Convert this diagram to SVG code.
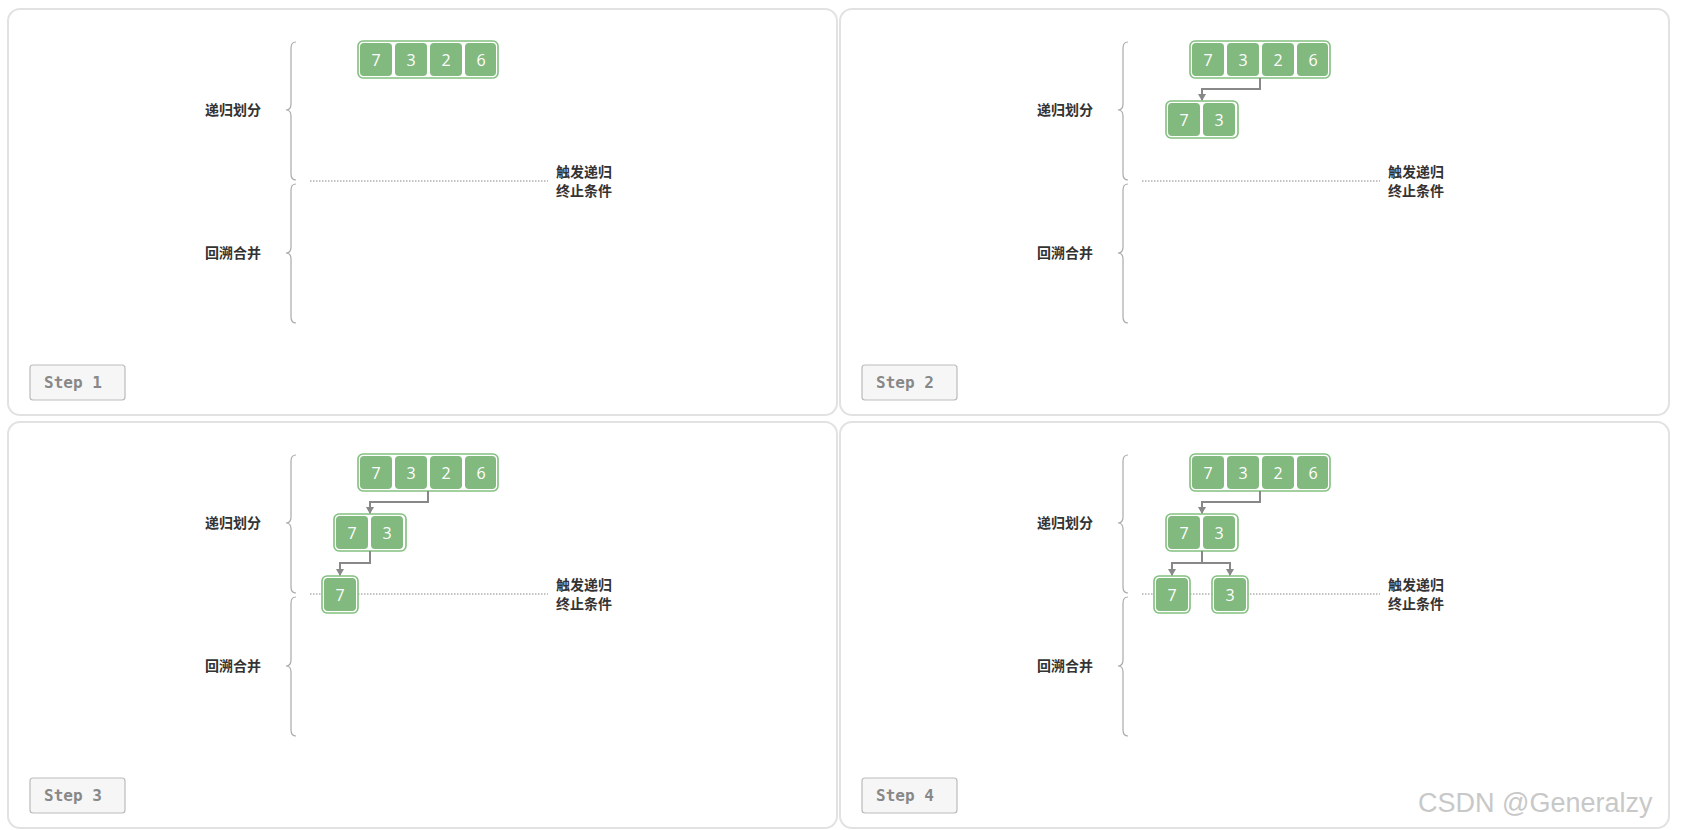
<svg xmlns="http://www.w3.org/2000/svg" width="1682" height="830" viewBox="0 0 1682 830">
<style>
.panel{fill:#fff;stroke:#e2e2e2;stroke-width:2}
.outer{fill:#fff;stroke:#82c07e;stroke-width:1.6}
.cell{fill:#82b97f;stroke:none}
.num{font-family:"Open Sans","Liberation Sans",sans-serif;font-size:16px;fill:#fff;text-anchor:middle;dominant-baseline:central}
.lbl{font-family:"Liberation Sans","Noto Sans CJK SC",sans-serif;font-size:14px;font-weight:bold;fill:#333}
.brace{fill:none;stroke:#aaa;stroke-width:1.2}
.dot{stroke:#888;stroke-width:1;stroke-dasharray:1.5 1.5}
.stepbox{fill:#f6f6f6;stroke:#bbb;stroke-width:1.2}
.steptxt{font-family:"DejaVu Sans Mono","Liberation Mono",monospace;font-size:16px;font-weight:bold;fill:#888}
.edge{fill:none;stroke:#888;stroke-width:2;marker-end:url(#ah)}
</style>
<defs>
<marker id="ah" markerWidth="8" markerHeight="8" refX="6" refY="4" orient="auto" markerUnits="userSpaceOnUse"><path d="M0,0 L7,4 L0,8 Z" fill="#888"/></marker>
<g id="frame">
<path class="brace" d="M296,42 Q291,42 291,48 L291,104 Q291,110 286,110 Q291,110 291,116 L291,174 Q291,180 296,180"/>
<path class="brace" d="M296,184 Q291,184 291,190 L291,247 Q291,253 286,253 Q291,253 291,259 L291,317 Q291,323 296,323"/>
<text class="lbl" x="205" y="115">递归划分</text>
<text class="lbl" x="205" y="258">回溯合并</text>
<line class="dot" x1="310" y1="181" x2="548" y2="181"/>
<text class="lbl" x="556" y="177">触发递归</text>
<text class="lbl" x="556" y="196">终止条件</text>
<rect class="outer" x="358" y="41" width="140" height="37" rx="5"/>
<rect class="cell" x="360" y="43" width="32" height="33" rx="4"/>
<rect class="cell" x="395" y="43" width="32" height="33" rx="4"/>
<rect class="cell" x="430" y="43" width="32" height="33" rx="4"/>
<rect class="cell" x="465" y="43" width="31" height="33" rx="4"/>
<text class="num" x="376" y="59.5">7</text>
<text class="num" x="411" y="59.5">3</text>
<text class="num" x="446" y="59.5">2</text>
<text class="num" x="481" y="59.5">6</text>
</g>
</defs>
<g id="panel1">
<rect class="panel" x="8" y="9" width="829" height="406" rx="12"/>
<use href="#frame"/>
<rect class="stepbox" x="30" y="365" width="95" height="35" rx="3"/>
<text class="steptxt" x="44" y="388">Step 1</text>
</g>
<g id="panel2" transform="translate(832,0)">
<rect class="panel" x="8" y="9" width="829" height="406" rx="12"/>
<use href="#frame"/>
<rect class="outer" x="334" y="101" width="72" height="37" rx="5"/>
<rect class="cell" x="336" y="103" width="32" height="33" rx="4"/>
<rect class="cell" x="371" y="103" width="32" height="33" rx="4"/>
<text class="num" x="352" y="119.5">7</text>
<text class="num" x="387" y="119.5">3</text>
<path class="edge" d="M428,78 L428,89 L370,89 L370,100"/>
<rect class="stepbox" x="30" y="365" width="95" height="35" rx="3"/>
<text class="steptxt" x="44" y="388">Step 2</text>
</g>
<g id="panel3" transform="translate(0,413)">
<rect class="panel" x="8" y="9" width="829" height="406" rx="12"/>
<use href="#frame"/>
<rect class="outer" x="334" y="101" width="72" height="37" rx="5"/>
<rect class="cell" x="336" y="103" width="32" height="33" rx="4"/>
<rect class="cell" x="371" y="103" width="32" height="33" rx="4"/>
<text class="num" x="352" y="119.5">7</text>
<text class="num" x="387" y="119.5">3</text>
<path class="edge" d="M428,78 L428,89 L370,89 L370,100"/>
<rect class="outer" x="322" y="163" width="36" height="37" rx="5"/>
<rect class="cell" x="324" y="165" width="32" height="33" rx="4"/>
<text class="num" x="340" y="181.5">7</text>
<path class="edge" d="M370,138 L370,150 L340,150 L340,162"/>
<rect class="stepbox" x="30" y="365" width="95" height="35" rx="3"/>
<text class="steptxt" x="44" y="388">Step 3</text>
</g>
<g id="panel4" transform="translate(832,413)">
<rect class="panel" x="8" y="9" width="829" height="406" rx="12"/>
<use href="#frame"/>
<rect class="outer" x="334" y="101" width="72" height="37" rx="5"/>
<rect class="cell" x="336" y="103" width="32" height="33" rx="4"/>
<rect class="cell" x="371" y="103" width="32" height="33" rx="4"/>
<text class="num" x="352" y="119.5">7</text>
<text class="num" x="387" y="119.5">3</text>
<path class="edge" d="M428,78 L428,89 L370,89 L370,100"/>
<rect class="outer" x="322" y="163" width="36" height="37" rx="5"/>
<rect class="cell" x="324" y="165" width="32" height="33" rx="4"/>
<text class="num" x="340" y="181.5">7</text>
<rect class="outer" x="380" y="163" width="36" height="37" rx="5"/>
<rect class="cell" x="382" y="165" width="32" height="33" rx="4"/>
<text class="num" x="398" y="181.5">3</text>
<path class="edge" d="M370,138 L370,150 L340,150 L340,162"/>
<path class="edge" d="M370,150 L398,150 L398,162"/>
<rect class="stepbox" x="30" y="365" width="95" height="35" rx="3"/>
<text class="steptxt" x="44" y="388">Step 4</text>
</g>
<text x="1418" y="812" font-family="Liberation Sans, Arial, sans-serif" font-size="27" fill="#c8c8c8">CSDN @Generalzy</text>
</svg>
